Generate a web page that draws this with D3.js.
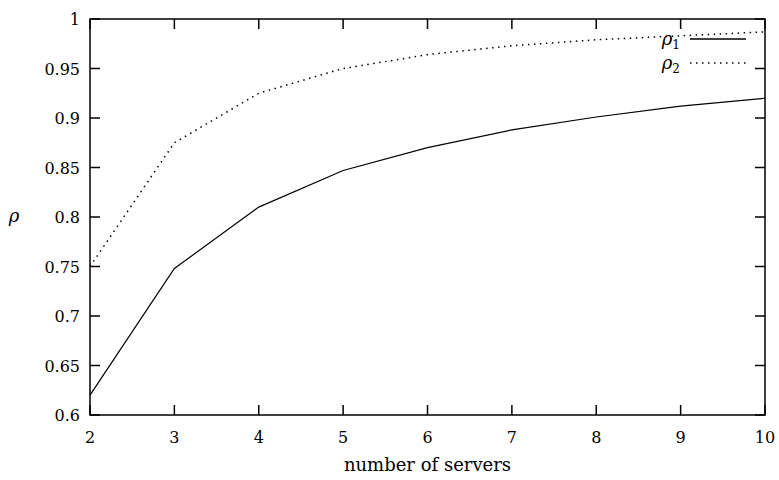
<!DOCTYPE html>
<html><head><meta charset="utf-8">
<script src="https://cdn.jsdelivr.net/npm/d3@7"></script>
<style>body{margin:0;background:#fff}</style>
</head><body>
<svg id="c" width="779" height="480"></svg>
<script>
const servers = [2,3,4,5,6,7,8,9,10];
const rho1 = [0.62,0.748,0.81,0.847,0.87,0.888,0.901,0.912,0.92];
const rho2 = [0.75,0.875,0.925,0.95,0.964,0.973,0.979,0.983,0.987];
const xTicks = [2,3,4,5,6,7,8,9,10];
const yTicks = [0.6,0.65,0.7,0.75,0.8,0.85,0.9,0.95,1];
const seriesNames = ["ρ","ρ"];
const subs = ["1","2"];

const svg = d3.select("#c");
const L=90,R=765,T=19,B=415;
const x = d3.scaleLinear().domain([2,10]).range([L,R]);
const y = d3.scaleLinear().domain([0.6,1]).range([B,T]);
const font = "'DejaVu Serif', serif";
const tl = 10;

const g = svg.append("g");
xTicks.forEach(v=>{
  g.append("line").attr("x1",x(v)).attr("x2",x(v)).attr("y1",B).attr("y2",B-tl).attr("stroke","#000").attr("stroke-width",1.5);
  g.append("line").attr("x1",x(v)).attr("x2",x(v)).attr("y1",T).attr("y2",T+tl).attr("stroke","#000").attr("stroke-width",1.5);
  g.append("text").attr("x",x(v)).attr("y",B+28).attr("text-anchor","middle").attr("font-family",font).attr("font-size",16).text(v);
});
yTicks.forEach(v=>{
  g.append("line").attr("x1",L).attr("x2",L+tl).attr("y1",y(v)).attr("y2",y(v)).attr("stroke","#000").attr("stroke-width",1.5);
  g.append("line").attr("x1",R).attr("x2",R-tl).attr("y1",y(v)).attr("y2",y(v)).attr("stroke","#000").attr("stroke-width",1.5);
  g.append("text").attr("x",L-10).attr("y",y(v)+6).attr("text-anchor","end").attr("font-family",font).attr("font-size",16).text(v);
});
g.append("rect").attr("x",L).attr("y",T).attr("width",R-L).attr("height",B-T).attr("fill","none").attr("stroke","#000").attr("stroke-width",1.5);

const line = d3.line().x((d,i)=>x(servers[i])).y(d=>y(d));
svg.append("path").datum(rho1).attr("d",line).attr("fill","none").attr("stroke","#000").attr("stroke-width",1.2);
svg.append("path").datum(rho2).attr("d",line).attr("fill","none").attr("stroke","#000").attr("stroke-width",1.5).attr("stroke-dasharray","1.5,4.5");

const leg = [{ly:39,dash:null},{ly:63,dash:"1.5,4.5"}];
leg.forEach((l,i)=>{
  const t = svg.append("text").attr("x",680).attr("y",l.ly+6).attr("text-anchor","end").attr("font-family",font).attr("font-size",18).attr("font-style","italic");
  t.append("tspan").text(seriesNames[i]);
  t.append("tspan").attr("font-size",12).attr("font-style","normal").attr("dy",4).text(subs[i]);
  svg.append("line").attr("x1",690).attr("x2",746).attr("y1",l.ly).attr("y2",l.ly).attr("stroke","#000").attr("stroke-width",1.5).attr("stroke-dasharray",l.dash);
});

svg.append("text").attr("x",(L+R)/2).attr("y",471).attr("text-anchor","middle").attr("font-family",font).attr("font-size",18).text("number of servers");
svg.append("text").attr("x",14).attr("y",222).attr("text-anchor","middle").attr("font-family",font).attr("font-size",18).attr("font-style","italic").text("ρ");
</script>
</body></html>
